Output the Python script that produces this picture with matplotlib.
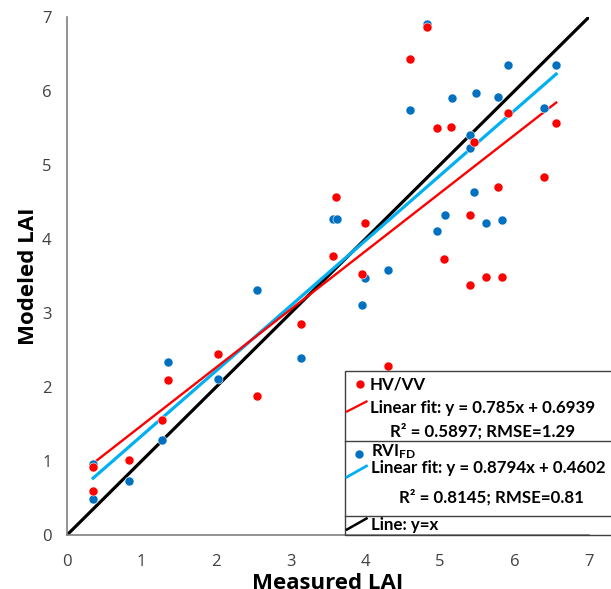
import matplotlib
matplotlib.use("Agg")
import matplotlib.pyplot as plt
from matplotlib.lines import Line2D
import numpy as np

# HV/VV data
hv_x = [0.35, 0.35, 0.83, 1.28, 1.36, 2.03, 2.55, 3.14, 3.57, 3.61, 3.95, 4.00, 4.31,
        4.60, 4.83, 4.96, 5.06, 5.15, 5.40, 5.40, 5.46, 5.62, 5.78, 5.84, 5.91, 6.39, 6.56]
hv_y = [0.92, 0.59, 1.01, 1.56, 2.09, 2.44, 1.88, 2.85, 3.77, 4.57, 3.53, 4.21, 2.29,
        6.43, 6.87, 5.50, 3.73, 5.52, 4.32, 3.38, 5.31, 3.49, 4.70, 3.48, 5.70, 4.84, 5.57]

# RVI_FD data
rvi_x = [0.35, 0.35, 0.83, 1.28, 1.36, 2.03, 2.55, 3.14, 3.57, 3.62, 3.95, 4.00, 4.31, 4.60,
         4.83, 4.96, 5.07, 5.16, 5.40, 5.40, 5.46, 5.48, 5.62, 5.78, 5.84, 5.91, 6.39, 6.56]
rvi_y = [0.96, 0.48, 0.73, 1.28, 2.34, 2.11, 3.31, 2.39, 4.27, 4.27, 3.11, 3.47, 3.58, 5.74,
         6.90, 4.11, 4.32, 5.90, 5.40, 5.23, 4.64, 5.97, 4.21, 5.92, 4.26, 6.35, 5.77, 6.35]

hv_fit = (0.785, 0.6939)
rvi_fit = (0.8794, 0.4602)

RED = "#FF0000"
BLUE = "#0070C0"
CYAN = "#00B0F0"
GRAY = "#808080"
FONT = "Lato"

W, H = 611, 589
fig = plt.figure(figsize=(W / 100, H / 100), dpi=100)
ax = fig.add_axes([67 / W, 1 - 535 / H, (589 - 67) / W, (535 - 17) / H])

ax.plot([0, 7], [0, 7], color="black", lw=2.3, solid_capstyle="round", zorder=2)
xs = np.array([min(rvi_x), max(rvi_x)])
ax.plot(xs, rvi_fit[0] * xs + rvi_fit[1], color=CYAN, lw=2.3, zorder=2)
xs = np.array([min(hv_x), max(hv_x)])
ax.plot(xs, hv_fit[0] * xs + hv_fit[1], color=RED, lw=1.7, zorder=2)

ax.plot(rvi_x, rvi_y, "o", color=BLUE, ms=6.5, mec="white", mew=0.4, zorder=3)
ax.plot(hv_x, hv_y, "o", color=RED, ms=6.5, mec="white", mew=0.4, zorder=4)

ax.set_xlim(0, 7)
ax.set_ylim(0, 7)
ax.set_xticks(range(8))
ax.set_yticks(range(8))
for s in ["top", "right"]:
    ax.spines[s].set_visible(False)
for s in ["left", "bottom"]:
    ax.spines[s].set_color(GRAY)
    ax.spines[s].set_linewidth(1.2)
ax.tick_params(axis="both", length=0, labelsize=12, labelcolor="#404040")
ax.tick_params(axis="x", pad=14)
ax.tick_params(axis="y", pad=11)
for lab in ax.get_xticklabels() + ax.get_yticklabels():
    lab.set_fontfamily("Open Sans")
ax.set_xlabel("Measured LAI", fontsize=16, fontweight="bold", family="Open Sans", va="center")
ax.xaxis.set_label_coords(0.5, -0.094)
ax.set_ylabel("Modeled LAI", fontsize=16, fontweight="bold", family="Open Sans", va="center")
ax.yaxis.set_label_coords(-0.074, 0.5)

# legend box, drawn by hand in pixel units
def fx(x):
    return x / W

def fy(y):
    return 1 - y / H

box = plt.Rectangle((fx(344.5), fy(535)), fx(W - 344.5 + 5), (535 - 371) / H,
                    transform=fig.transFigure, fill=False, ec="#404040", lw=1.0, clip_on=False)
fig.patches.append(box)
for yy in [441, 515.7]:
    fig.lines.append(Line2D([fx(344.5), 1.01], [fy(yy), fy(yy)], transform=fig.transFigure, color="#404040", lw=1.0))

plt.rcParams["mathtext.fontset"] = "custom"
plt.rcParams["mathtext.bf"] = FONT + ":bold"
plt.rcParams["mathtext.rm"] = FONT + ":bold"
tk = dict(fontsize=12.2, fontweight="bold", family=FONT, va="center", color="black")

fig.lines.append(Line2D([fx(360)], [fy(384)], marker="o", color=RED, ms=5, transform=fig.transFigure))
fig.text(fx(370), fy(385), "HV/VV", **tk)
fig.lines.append(Line2D([fx(347), fx(366.5)], [fy(411.5), fy(401.5)], color=RED, lw=1.6, transform=fig.transFigure))
fig.text(fx(370), fy(407.5), "Linear fit: y = %.3fx + %.4f" % hv_fit, **tk)
fig.text(fx(483), fy(431), "R\u00b2 = 0.5897; RMSE=1.29", ha="center", **tk)

fig.lines.append(Line2D([fx(359)], [fy(454)], marker="o", color=BLUE, ms=5, transform=fig.transFigure))
fig.text(fx(371), fy(451.5), r"$\mathbf{RVI_{FD}}$", **tk)
fig.lines.append(Line2D([fx(347), fx(366.5)], [fy(477), fy(466)], color=CYAN, lw=2, transform=fig.transFigure))
fig.text(fx(371), fy(468.5), "Linear fit: y = %.4fx + %.4f" % rvi_fit, **tk)
fig.text(fx(491.5), fy(497.5), "R\u00b2 = 0.8145; RMSE=0.81", ha="center", **tk)

fig.lines.append(Line2D([fx(347), fx(366.5)], [fy(529.5), fy(518.5)], color="black", lw=1.8, transform=fig.transFigure))
fig.text(fx(371), fy(525), "Line: y=x", **tk)

fig.savefig("out.png", dpi=100)
